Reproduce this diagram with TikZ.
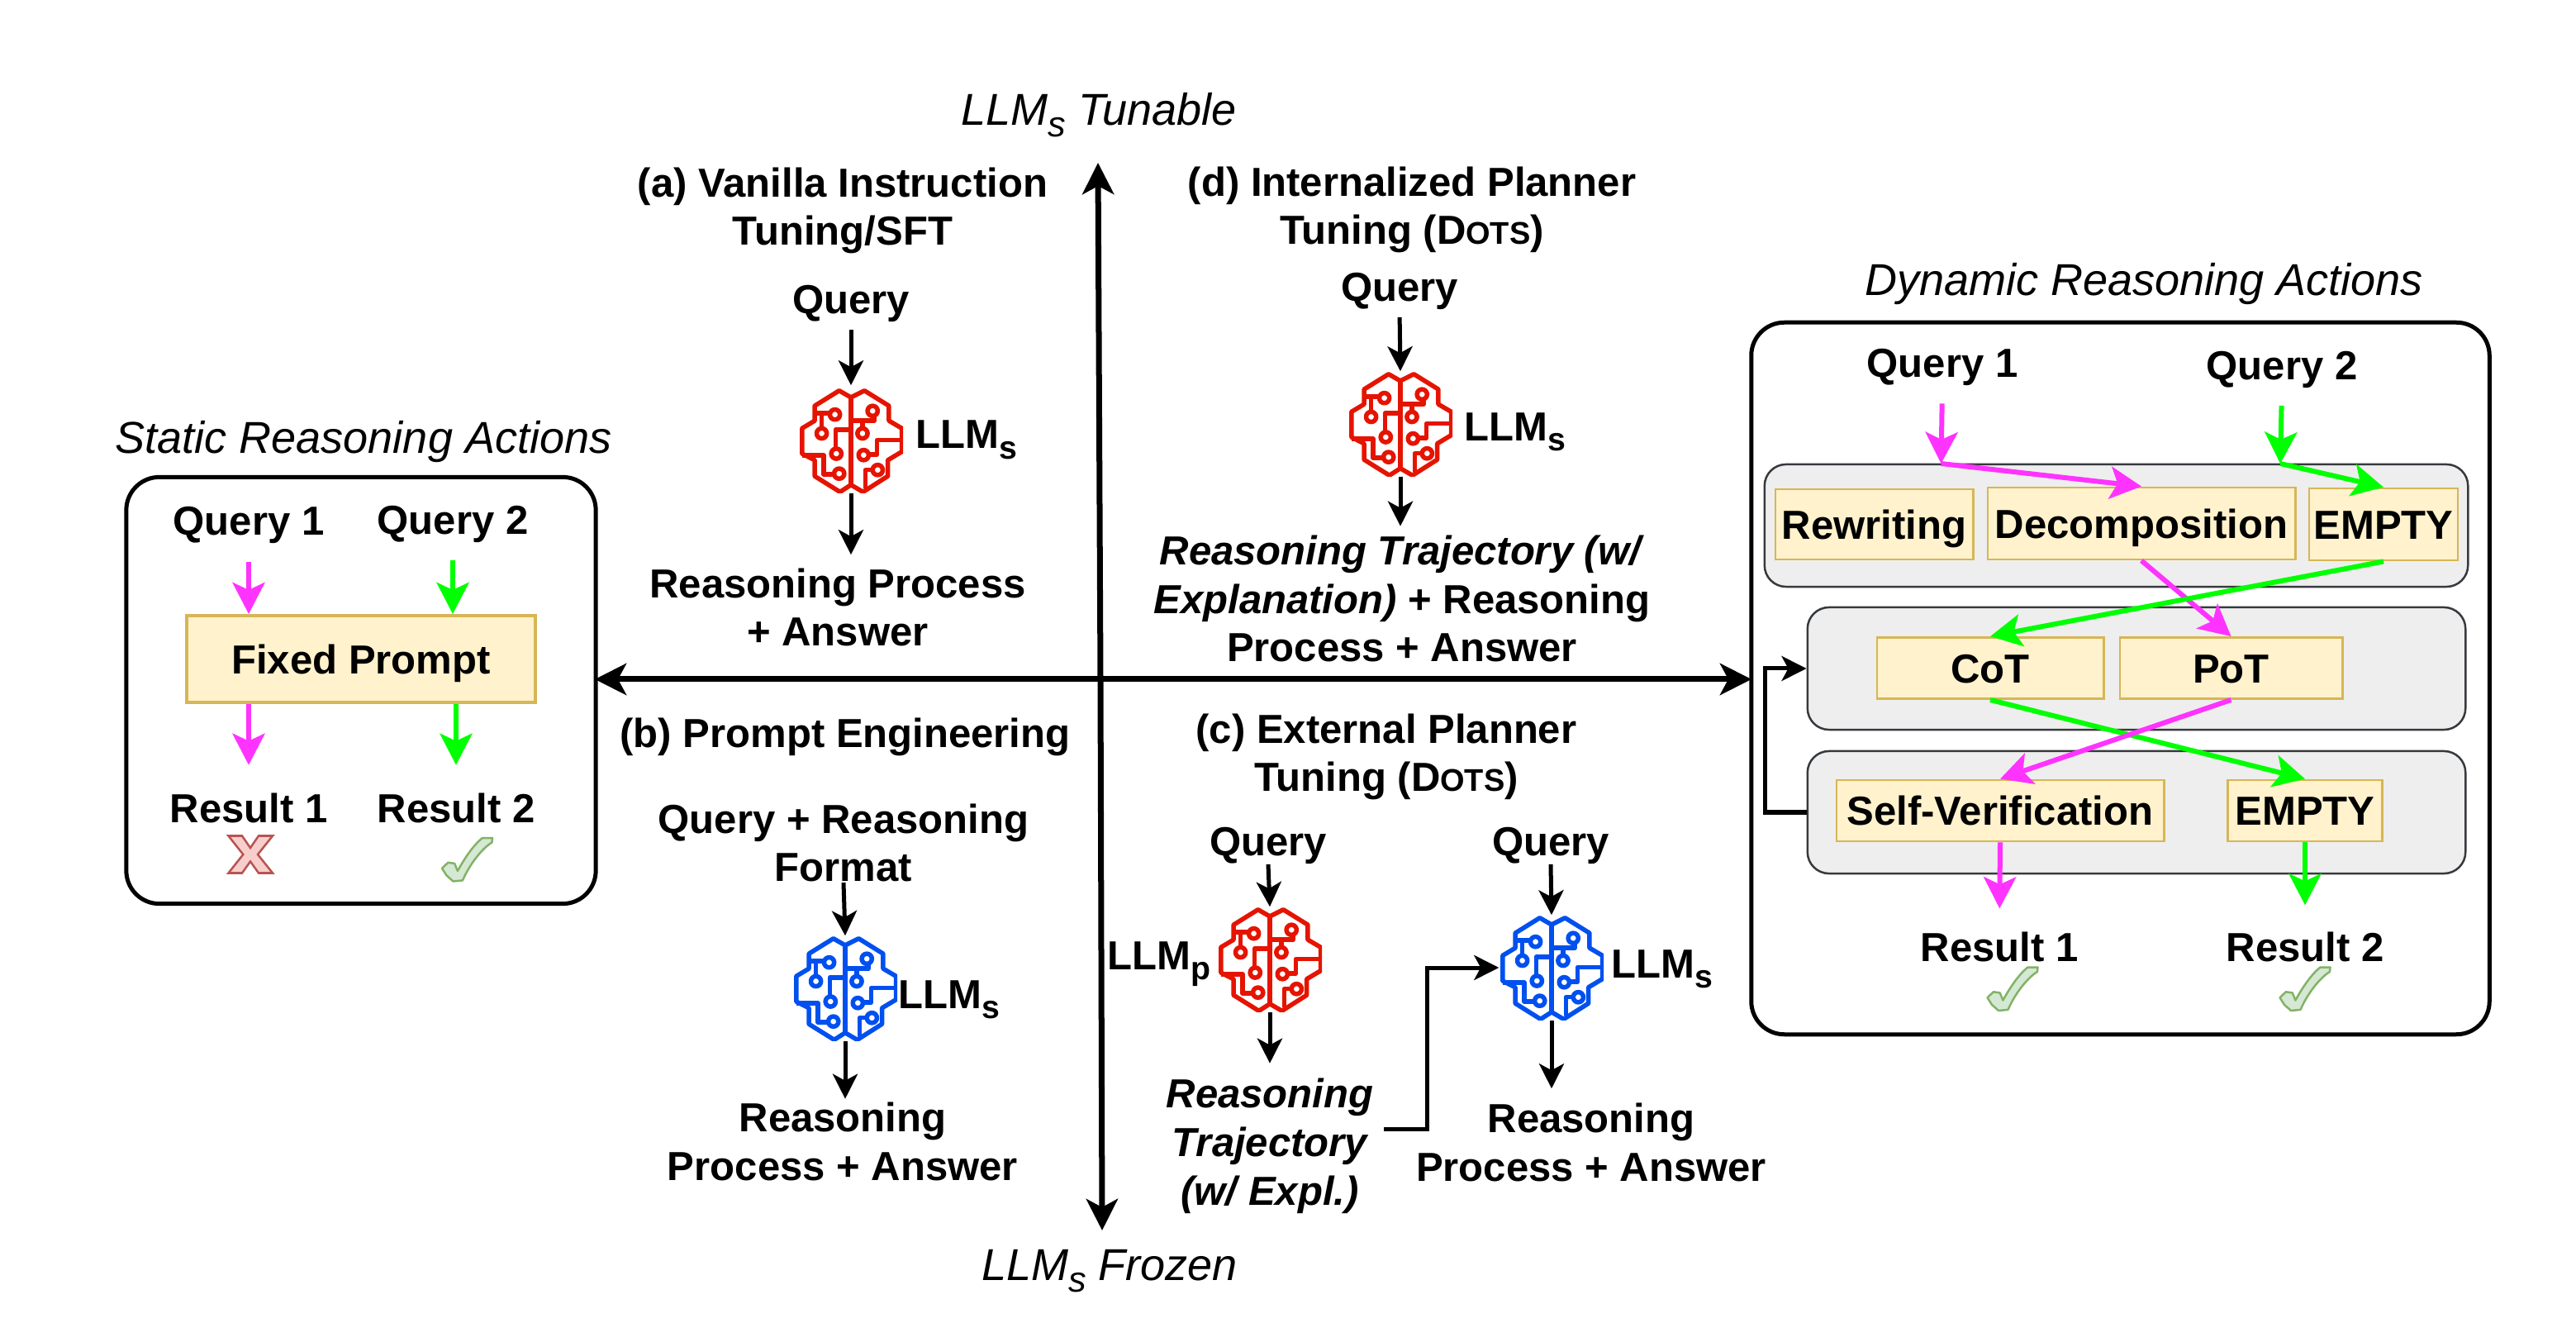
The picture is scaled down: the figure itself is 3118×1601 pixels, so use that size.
\documentclass[tikz,border=0pt]{standalone}
\usepackage{graphicx}
\usepackage{fontspec}
\setmainfont{Liberation Sans}
\usetikzlibrary{arrows.meta}
\usetikzlibrary{positioning}

\definecolor{queryPink}{HTML}{FF33FF}
\definecolor{queryGreen}{HTML}{00FF00}
\definecolor{brainRed}{HTML}{E51400}
\definecolor{brainBlue}{HTML}{0050EF}
\definecolor{promptFill}{HTML}{FFF2CC}
\definecolor{promptLine}{HTML}{D6B656}
\definecolor{panelFill}{HTML}{EEEEEE}
\definecolor{panelLine}{HTML}{36393D}
\definecolor{tickFill}{HTML}{D5E8D4}
\definecolor{tickLine}{HTML}{82B366}
\definecolor{crossFill}{HTML}{F8CECC}
\definecolor{crossLine}{HTML}{B85450}

\newcommand{\lowS}[1]{\raisebox{-0.25em}{\scalebox{0.8}{#1}}}
\newcommand{\dotsName}{D{\fontsize{10.8}{12}\selectfont OTS}}

\tikzset{
  textLabel/.style={font=\fontsize{13.95}{16.64}\selectfont\bfseries, align=center, inner sep=0pt, anchor=base},
  titleLabel/.style={font=\fontsize{15.37}{18}\selectfont\itshape, inner sep=0pt, anchor=base},
  groupBox/.style={draw=black, line width=0.05cm, rounded corners=0.4cm, inner sep=0pt},
  panelBox/.style={draw=panelLine, fill=panelFill, line width=0.025cm, rounded corners=0.26cm, inner sep=0pt},
  promptBox/.style={draw=promptLine, fill=promptFill, line width=0.028cm, inner sep=0pt,
    font=\fontsize{13.95}{16.64}\selectfont\bfseries, text height=0.35cm, text depth=0cm},
  axisArrow/.style={line width=0.07cm, -{Stealth[length=3.8mm,width=3.8mm,inset=1mm]}},
  blackArrow/.style={line width=0.05cm, -{Stealth[length=3mm,width=3mm,inset=0.8mm]}},
  pinkArrow/.style={draw=queryPink, line width=0.06cm, -{Stealth[length=3.8mm,width=3.9mm,inset=0.9mm]}},
  greenArrow/.style={draw=queryGreen, line width=0.06cm, -{Stealth[length=3.8mm,width=3.9mm,inset=0.9mm]}},
  brainBox/.style={minimum size=1.26cm, inner sep=0pt, path picture={
    \begin{scope}[shift={(path picture bounding box.center)}, x=0.0034cm, y=-0.0034cm, draw=#1, line width=0.055cm, line join=round]
      \draw (0,-153) -- (-42,-177) -- (-129,-123) -- (-129,-70) -- (-174,-43) -- (-174,47) -- (-129,70) -- (-129,127) -- (-39,183) -- (0,158);
      \draw (0,-153) -- (48,-177) -- (135,-123) -- (135,-70) -- (181,-43) -- (181,40) -- (131,70) -- (131,127) -- (43,183) -- (0,158);
      \draw (0,-153) -- (0,158);
      \draw (-74,-97) -- (-122,-97) (-104,-97) -- (-104,-45);
      \draw (0,-38) -- (-55,-38) -- (-55,28);
      \draw (-174,53) -- (-97,53) -- (-97,120) -- (-64,120);
      \draw (0,-70) -- (83,-70) -- (83,-87) (41,-70) -- (41,-45);
      \draw (181,-2) -- (93,-2) -- (93,50) -- (65,50);
      \draw (78,105) -- (51,105) -- (51,170);
      \foreach \cx/\cy in {-57/-92, -104/-25, -52/47, -42/118, 77/-105, 41/-25, 45/52, 95/105}
        \draw (\cx,\cy) circle[radius=18];
    \end{scope}}},
  tickMark/.pic={
    \draw[draw=tickLine, fill=tickFill, line width=0.025cm, line join=round]
      (-30.5,10.8) -- (-23.2,3.8) -- (-15.3,4.9) -- (-11.6,14)
      .. controls (-5.5,2.7) and (6.1,-16.2) .. (18.3,-25.9) -- (30.5,-25.9) -- (29.9,-20.5)
      .. controls (18.3,-13.5) and (3.1,5.4) .. (-5.5,25.4) -- (-17,26.5) -- (-25,19.4) -- cycle;
  },
  crossMark/.pic={
    \draw[draw=crossLine, fill=crossFill, line width=0.025cm, line join=miter]
      (-26.5,-22.5) -- (-10,-22.5) -- (0,-8) -- (10,-22.5) -- (27,-22.5) -- (9,0) -- (27,22.5)
      -- (10,22.5) -- (0,8.5) -- (-10,22.5) -- (-26.5,22.5) -- (-8.7,0) -- cycle;
  }
}

\begin{document}
\begin{tikzpicture}[x=0.01cm, y=-0.01cm]
  \useasboundingbox (0,0) rectangle (3118,1601);

  % axes
  \coordinate (origin) at (1332,822);
  \coordinate (axisTop) at (1329,197);
  \coordinate (axisBottom) at (1334,1489);
  \coordinate (axisLeft) at (720,822);
  \coordinate (axisRight) at (2120,822);
  \draw[axisArrow] (origin) -- (axisTop);
  \draw[axisArrow] (origin) -- (axisBottom);
  \draw[axisArrow] (origin) -- (axisLeft);
  \draw[axisArrow] (origin) -- (axisRight);
  \node[titleLabel] (tunableLabel) at (1330,151.5) {LLM\lowS{s} Tunable};
  \node[titleLabel] (frozenLabel) at (1343,1549.5) {LLM\lowS{s} Frozen};

  % static side
  \node[titleLabel] (staticTitle) at (440,549) {Static Reasoning Actions};
  \node[groupBox, minimum width=5.68cm, minimum height=5.16cm] (staticBox) at (437,835.5) {};
  \node[textLabel] (staticQueryA) at (301,648) {Query 1};
  \node[textLabel] (staticQueryB) at (548,646.5) {Query 2};
  \node[promptBox, line width=0.04cm, minimum width=4.22cm, minimum height=1.05cm] (fixedPrompt) at (437,797.5) {Fixed Prompt};
  \node[textLabel] (staticResultA) at (301,995) {Result 1};
  \node[textLabel] (staticResultB) at (552,995) {Result 2};
  \pic at (303,1034) {crossMark};
  \pic at (565.5,1040) {tickMark};
  \draw[pinkArrow, shorten <=0.21cm] (staticQueryA.south) -- (staticQueryA.south |- fixedPrompt.north);
  \draw[greenArrow, shorten <=0.21cm] (staticQueryB.south) -- (staticQueryB.south |- fixedPrompt.north);
  \draw[pinkArrow, shorten >=0.33cm] (staticResultA.north |- fixedPrompt.south) -- (staticResultA.north);
  \draw[greenArrow, shorten >=0.33cm] (staticResultB.north |- fixedPrompt.south) -- (staticResultB.north);

  % (a)
  \node[textLabel] (tuningA) at (1020,297) {(a) Vanilla Instruction\\Tuning/SFT};
  \node[textLabel] (queryA) at (1030,380) {Query};
  \node[brainBox=brainRed] (brainA) at (1030,533) {};
  \node[textLabel, anchor=base west] (llmA) at (1108,543) {LLM\lowS{s}};
  \node[textLabel] (answerA) at (1014,782) {Reasoning Process\\+ Answer};
  \draw[blackArrow, shorten <=0.08cm, shorten >=0.03cm] (queryA.south) -- (brainA.north);
  \draw[blackArrow, shorten >=0.16cm] (brainA.south) -- (answerA.north -| brainA.south);

  % (b)
  \node[textLabel] (tuningB) at (1023,905) {(b) Prompt Engineering};
  \node[textLabel] (queryB) at (1021,1067) {Query + Reasoning\\Format};
  \node[brainBox=brainBlue] (brainB) at (1023,1196) {};
  \node[textLabel, anchor=base west] (llmB) at (1087,1220) {LLM\lowS{s}};
  \node[textLabel] (answerB) at (1020,1428.5) {Reasoning\\Process + Answer};
  \draw[blackArrow] (queryB.south) -- (brainB.north);
  \draw[blackArrow, shorten >=0.04cm] (brainB.south) -- (answerB.north -| brainB.south);

  % (c)
  \node[textLabel] (tuningC) at (1678,958) {(c) External Planner\\Tuning (\dotsName)};
  \node[textLabel] (queryC) at (1535,1035) {Query};
  \node[brainBox=brainRed] (brainC) at (1537,1161) {};
  \node[textLabel, anchor=base west] (llmC) at (1340,1173) {LLM\lowS{p}};
  \node[textLabel, font=\fontsize{13.95}{16.64}\selectfont\bfseries\itshape] (trajectoryC) at (1537,1458) {Reasoning\\Trajectory\\(w/ Expl.)};
  \node[textLabel] (queryE) at (1877,1035) {Query};
  \node[brainBox=brainBlue] (brainE) at (1878,1171) {};
  \node[textLabel, anchor=base west] (llmE) at (1950,1183) {LLM\lowS{s}};
  \node[textLabel] (answerE) at (1926,1429) {Reasoning\\Process + Answer};
  \coordinate (trajectoryOut) at (1675,1366);
  \draw[blackArrow] (queryC.south) -- (brainC.north);
  \draw[blackArrow, shorten >=0.18cm] (brainC.south) -- (trajectoryC.north -| brainC.south);
  \draw[blackArrow] (queryE.south) -- (brainE.north);
  \draw[blackArrow, shorten >=0.17cm] (brainE.south) -- (answerE.north -| brainE.south);
  \draw[blackArrow] (trajectoryOut) -- ++(52,0) |- (brainE.west);

  % (d)
  \node[textLabel] (tuningD) at (1709,296) {(d) Internalized Planner\\Tuning (\dotsName)};
  \node[textLabel] (queryD) at (1694,365) {Query};
  \node[brainBox=brainRed] (brainD) at (1695,513) {};
  \node[textLabel, anchor=base west] (llmD) at (1772,533.5) {LLM\lowS{s}};
  \node[textLabel] (answerD) at (1697,801) {\textit{Reasoning Trajectory (w/}\\\textit{Explanation)} + Reasoning\\Process + Answer};
  \draw[blackArrow, shorten <=0.08cm] (queryD.south) -- (brainD.north);
  \draw[blackArrow, shorten >=0.11cm] (brainD.south) -- (answerD.north -| brainD.south);

  % dynamic side
  \node[titleLabel] (dynamicTitle) at (2595,358) {Dynamic Reasoning Actions};
  \node[groupBox, minimum width=8.93cm, minimum height=8.61cm] (dynamicBox) at (2566.5,821) {};
  \node[textLabel] (dynQueryA) at (2351,456.5) {Query 1};
  \node[textLabel] (dynQueryB) at (2762,460) {Query 2};
  \node[panelBox, minimum width=8.51cm, minimum height=1.48cm] (panelA) at (2561.5,636) {};
  \node[panelBox, minimum width=7.96cm, minimum height=1.48cm] (panelB) at (2586,809) {};
  \node[panelBox, minimum width=7.96cm, minimum height=1.48cm] (panelC) at (2586,983) {};
  \node[promptBox, minimum width=2.39cm, minimum height=0.85cm] (rewriting) at (2268.5,634.5) {Rewriting};
  \node[promptBox, minimum width=3.72cm, minimum height=0.87cm] (decomposition) at (2592,633.5) {Decomposition};
  \node[promptBox, minimum width=1.80cm, minimum height=0.87cm] (emptyA) at (2885,634.5) {EMPTY};
  \node[promptBox, minimum width=2.74cm, minimum height=0.74cm] (cot) at (2409,808.5) {CoT};
  \node[promptBox, minimum width=2.69cm, minimum height=0.74cm] (pot) at (2700.5,808.5) {PoT};
  \node[promptBox, minimum width=3.96cm, minimum height=0.74cm] (selfVerify) at (2421,981) {Self-Verification};
  \node[promptBox, minimum width=1.87cm, minimum height=0.74cm] (emptyB) at (2790,981) {EMPTY};
  \node[textLabel] (dynResultA) at (2420,1163.6) {Result 1};
  \node[textLabel] (dynResultB) at (2790,1163.6) {Result 2};
  \pic at (2436,1196.5) {tickMark};
  \pic at (2790,1196.5) {tickMark};
  \coordinate (splitA) at (2349.5,561);
  \coordinate (splitB) at (2760,561);
  \draw[pinkArrow, shorten <=0.21cm] (dynQueryA.south) -- (splitA);
  \draw[greenArrow, shorten <=0.2cm] (dynQueryB.south) -- (splitB);
  \draw[pinkArrow] (splitA) -- (decomposition.north);
  \draw[greenArrow] (splitB) -- (emptyA.north);
  \draw[pinkArrow] (decomposition.south) -- (pot.north);
  \draw[greenArrow] (emptyA.south) -- (cot.north);
  \draw[greenArrow] (cot.south) -- (emptyB.north);
  \draw[pinkArrow] (pot.south) -- (selfVerify.north);
  \draw[pinkArrow, shorten >=0.28cm] (selfVerify.south) -- (dynResultA.north);
  \draw[greenArrow, shorten >=0.32cm] (emptyB.south) -- (dynResultB.north);
  \draw[blackArrow] (panelC.west) -- ++(-50,0) |- (panelB.west);
\end{tikzpicture}
\end{document}
